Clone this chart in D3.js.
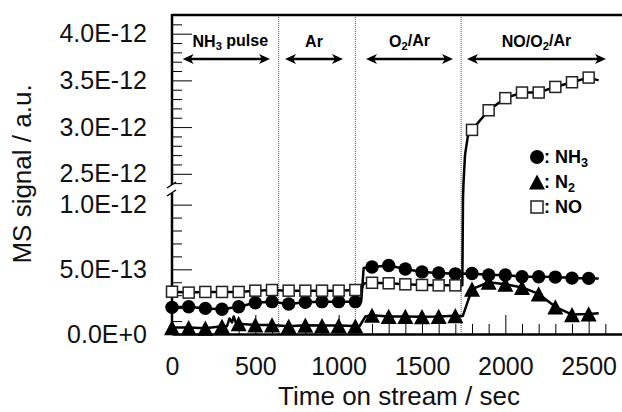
<!DOCTYPE html>
<html>
<head>
<meta charset="utf-8">
<script src="https://cdn.jsdelivr.net/npm/d3@7"></script>
<style>
body { margin: 0; background: #fff; }
svg { display: block; font-family: 'Liberation Sans', Arial, sans-serif; }
</style>
</head>
<body>
<div class="chart-wrapper"></div>
<script>
// marker times (sec) and signals
const times = [0, 100, 200, 300, 400, 500, 600, 700, 800, 900, 1000, 1100, 1200,
  1300, 1400, 1500, 1600, 1700, 1800, 1900, 2000, 2100, 2200, 2300, 2400, 2500];

const nh3 = [2.06e-13, 2.11e-13, 1.98e-13, 1.91e-13, 2.11e-13, 2.42e-13, 2.5e-13, 2.32e-13, 2.45e-13,
  2.5e-13, 2.5e-13, 2.5e-13, 5.18e-13, 5.3e-13, 5.02e-13, 4.8e-13, 4.72e-13, 4.65e-13, 4.68e-13,
  4.56e-13, 4.56e-13, 4.42e-13, 4.42e-13, 4.4e-13, 4.32e-13, 4.3e-13];

const n2 = [0.5e-13, 0.5e-13, 0.45e-13, 0.6e-13, 0.8e-13, 0.7e-13, 0.7e-13, 0.6e-13, 0.68e-13,
  0.65e-13, 0.65e-13, 0.62e-13, 1.45e-13, 1.36e-13, 1.36e-13, 1.34e-13, 1.36e-13, 1.42e-13, 3.47e-13,
  4.0e-13, 3.85e-13, 3.6e-13, 3.1e-13, 2.1e-13, 1.5e-13, 1.55e-13];

const no = [3.27e-13, 3.2e-13, 3.25e-13, 3.25e-13, 3.25e-13, 3.35e-13, 3.4e-13, 3.35e-13, 3.35e-13,
  3.35e-13, 3.35e-13, 3.4e-13, 3.96e-13, 3.92e-13, 3.84e-13, 3.79e-13, 3.76e-13, 3.76e-13, 2.97e-12,
  3.18e-12, 3.31e-12, 3.37e-12, 3.37e-12, 3.43e-12, 3.48e-12, 3.53e-12];

// extra trace points between markers (switching steps, pulse, tails)
const nh3Trace = [[1135, 2.5e-13], [1150, 5.1e-13], [2560, 4.3e-13]];
const n2Trace = [[330, 0.6e-13], [345, 1.2e-13], [360, 0.9e-13], [370, 1.35e-13], [385, 0.8e-13],
  [1125, 0.6e-13], [1160, 1.35e-13], [1745, 1.4e-13], [2560, 1.6e-13]];
const noTrace = [[1135, 3.4e-13], [1150, 3.9e-13], [1742, 3.76e-13], [1746, 1.05e-12],
  [1749, 2.4e-12], [1758, 2.7e-12], [1775, 2.9e-12], [2560, 3.5e-12]];

const xTicks = [0, 500, 1000, 1500, 2000, 2500];
const yTicksLow = [0, 5e-13, 1e-12];
const yTicksHigh = [2.5e-12, 3.0e-12, 3.5e-12, 4.0e-12];

const switchTimes = [640, 1100, 1735];
const periodLabels = ['NH_3 pulse', 'Ar', 'O_2/Ar', 'NO/O_2/Ar'];
const periodStart = [64, 678, 1164, 1770];
const periodEnd = [588, 1026, 1686, 2604];

const width = 622;
const height = 412;

const x = d3.scaleLinear().domain([0, 2700]).range([172, 622]);
// broken axis: lower part 0..1.09E-12, upper part 2.38E-12..4.2E-12
const y = d3.scaleLinear()
  .domain([0, 1.09e-12, 2.38e-12, 4.2e-12])
  .range([334, 193, 185, 15]);

const fmt = v => d3.format('.1e')(v).replace('e', 'E');

const svg = d3.select('.chart-wrapper')
  .append('svg')
  .attr('width', width)
  .attr('height', height);

// text with _N subscripts
const subText = (sel, str) => {
  str.split(/_(\d)/).forEach((part, i) => {
    if (!part) return;
    const t = sel.append('tspan').text(part);
    if (i % 2 === 1) t.attr('font-size', '0.7em').attr('dy', '0.3em');
    else if (i > 0) t.attr('dy', '-0.3em');
  });
};

// switching lines
svg.append('g')
  .selectAll('line')
  .data(switchTimes)
  .join('line')
  .attr('x1', d => x(d)).attr('x2', d => x(d))
  .attr('y1', 15).attr('y2', 334)
  .attr('stroke', '#555')
  .attr('stroke-width', 1)
  .attr('stroke-dasharray', '1,1');

// frame top
svg.append('line')
  .attr('x1', 172).attr('x2', 622)
  .attr('y1', 15).attr('y2', 15)
  .attr('stroke', '#000').attr('stroke-width', 2.5);

// x axis
const xAxis = svg.append('g')
  .attr('transform', 'translate(0,334)')
  .call(d3.axisBottom(x).tickValues(xTicks).tickSizeInner(-19).tickSizeOuter(0).tickPadding(23).tickFormat(d3.format('d')));

svg.append('g')
  .attr('transform', 'translate(0,334)')
  .call(d3.axisBottom(x).tickValues(d3.range(100, 2700, 100).filter(d => d % 500)).tickSizeInner(-10).tickSizeOuter(0).tickFormat(''))
  .call(g => g.select('.domain').remove());

xAxis.select('.domain')
  .attr('stroke-width', 2.5);

xAxis.selectAll('text')
  .attr('font-size', 25)
  .attr('font-family', 'Liberation Sans, Arial, sans-serif')
  .attr('fill', '#111');

// y axis, two pieces
const yMajor = svg.append('g')
  .attr('transform', 'translate(172,0)')
  .call(d3.axisLeft(y).tickValues(yTicksLow.concat(yTicksHigh)).tickSizeInner(-20).tickSizeOuter(0).tickPadding(25).tickFormat(fmt))
  .call(g => g.select('.domain').remove());

yMajor.selectAll('text')
  .attr('font-size', 25)
  .attr('font-family', 'Liberation Sans, Arial, sans-serif')
  .attr('fill', '#111');

const minorY = d3.range(1, 11).map(d => d * 1e-13).concat(d3.range(24, 42).map(d => d * 1e-13))
  .filter(d => !yTicksLow.concat(yTicksHigh).some(t => Math.abs(t - d) < 1e-15));

svg.append('g')
  .attr('transform', 'translate(172,0)')
  .call(d3.axisLeft(y).tickValues(minorY).tickSizeInner(-10).tickSizeOuter(0).tickFormat(''))
  .call(g => g.select('.domain').remove());

svg.append('line')
  .attr('x1', 172).attr('x2', 172)
  .attr('y1', y(0) + 1).attr('y2', y(1.09e-12))
  .attr('stroke', '#000').attr('stroke-width', 2.5);

svg.append('line')
  .attr('x1', 172).attr('x2', 172)
  .attr('y1', y(2.38e-12)).attr('y2', 14)
  .attr('stroke', '#000').attr('stroke-width', 2.5);

// break marks
svg.append('g')
  .selectAll('line')
  .data([1.09e-12, 2.38e-12])
  .join('line')
  .attr('x1', 167).attr('x2', 176)
  .attr('y1', d => y(d) + 3).attr('y2', d => y(d) - 3)
  .attr('stroke', '#000').attr('stroke-width', 1.5);

// axis titles
svg.append('text')
  .attr('x', 399).attr('y', 405)
  .attr('text-anchor', 'middle')
  .attr('font-size', 26)
  .attr('fill', '#111')
  .text('Time on stream / sec');

svg.append('text')
  .attr('transform', 'translate(31,174) rotate(-90)')
  .attr('text-anchor', 'middle')
  .attr('font-size', 26)
  .attr('fill', '#111')
  .text('MS signal / a.u.');

// period labels and arrows
const arrowHead = (x0, dir) => {
  const l = 11, h = 5, n = 3;
  return `M${x0},59 L${x0 + dir * l},${59 - h} L${x0 + dir * (l - n)},59 L${x0 + dir * l},${59 + h}Z`;
};

periodLabels.forEach((label, i) => {
  const a = x(periodStart[i]);
  const b = x(periodEnd[i]);

  svg.append('line')
    .attr('x1', a + 4).attr('x2', b - 4)
    .attr('y1', 59).attr('y2', 59)
    .attr('stroke', '#000').attr('stroke-width', 2.5);

  svg.append('path').attr('d', arrowHead(a, 1)).attr('fill', '#000');
  svg.append('path').attr('d', arrowHead(b, -1)).attr('fill', '#000');

  const t = svg.append('text')
    .attr('x', (a + b) / 2 + (i === 0 ? 4 : 0)).attr('y', 47)
    .attr('text-anchor', 'middle')
    .attr('font-size', 16)
    .attr('font-weight', 'bold');
  subText(t, label);
});

// series
const triangle = {
  draw(ctx, size) {
    const w = Math.sqrt(size);
    const h = w * 0.95;
    ctx.moveTo(0, -h / 2);
    ctx.lineTo(w / 2, h / 2);
    ctx.lineTo(-w / 2, h / 2);
    ctx.closePath();
  }
};

const line = d3.line()
  .x(d => x(d[0]))
  .y(d => y(d[1]));

const trace = (vals, extra) => d3.sort(d3.zip(times, vals).concat(extra), d => d[0]);

const series = [
  {name: 'N2', vals: n2, extra: n2Trace},
  {name: 'NH3', vals: nh3, extra: nh3Trace},
  {name: 'NO', vals: no, extra: noTrace}
];

svg.append('g')
  .selectAll('path')
  .data(series)
  .join('path')
  .attr('d', d => line(trace(d.vals, d.extra)))
  .attr('fill', 'none')
  .attr('stroke', '#000')
  .attr('stroke-width', 2.5)
  .attr('stroke-linejoin', 'round');

svg.append('g')
  .selectAll('path')
  .data(d3.zip(times, n2))
  .join('path')
  .attr('transform', d => `translate(${x(d[0])},${y(d[1])})`)
  .attr('d', d3.symbol(triangle, 256))
  .attr('fill', '#000');

svg.append('g')
  .selectAll('circle')
  .data(d3.zip(times, nh3))
  .join('circle')
  .attr('cx', d => x(d[0]))
  .attr('cy', d => y(d[1]))
  .attr('r', 6.7)
  .attr('fill', '#000');

svg.append('g')
  .selectAll('rect')
  .data(d3.zip(times, no))
  .join('rect')
  .attr('x', d => x(d[0]) - 5.5)
  .attr('y', d => y(d[1]) - 5.5)
  .attr('width', 11)
  .attr('height', 11)
  .attr('fill', '#fff')
  .attr('stroke', '#222')
  .attr('stroke-width', 1.5);

// legend
const legendY = [157, 182, 207];
const legendLabels = [': NH_3', ': N_2', ': NO'];

const legend = svg.append('g');

legend.append('circle').attr('cx', 537).attr('cy', legendY[0]).attr('r', 7).attr('fill', '#000');
legend.append('path')
  .attr('transform', `translate(537,${legendY[1]})`)
  .attr('d', d3.symbol(triangle, 256))
  .attr('fill', '#000');
legend.append('rect')
  .attr('x', 531).attr('y', legendY[2] - 6)
  .attr('width', 12).attr('height', 12)
  .attr('fill', '#fff').attr('stroke', '#222').attr('stroke-width', 1.5);

legendLabels.forEach((label, i) => {
  const t = legend.append('text')
    .attr('x', 544).attr('y', legendY[i] + 6)
    .attr('font-size', 18)
    .attr('font-weight', 'bold');
  subText(t, label);
});
</script>
</body>
</html>
